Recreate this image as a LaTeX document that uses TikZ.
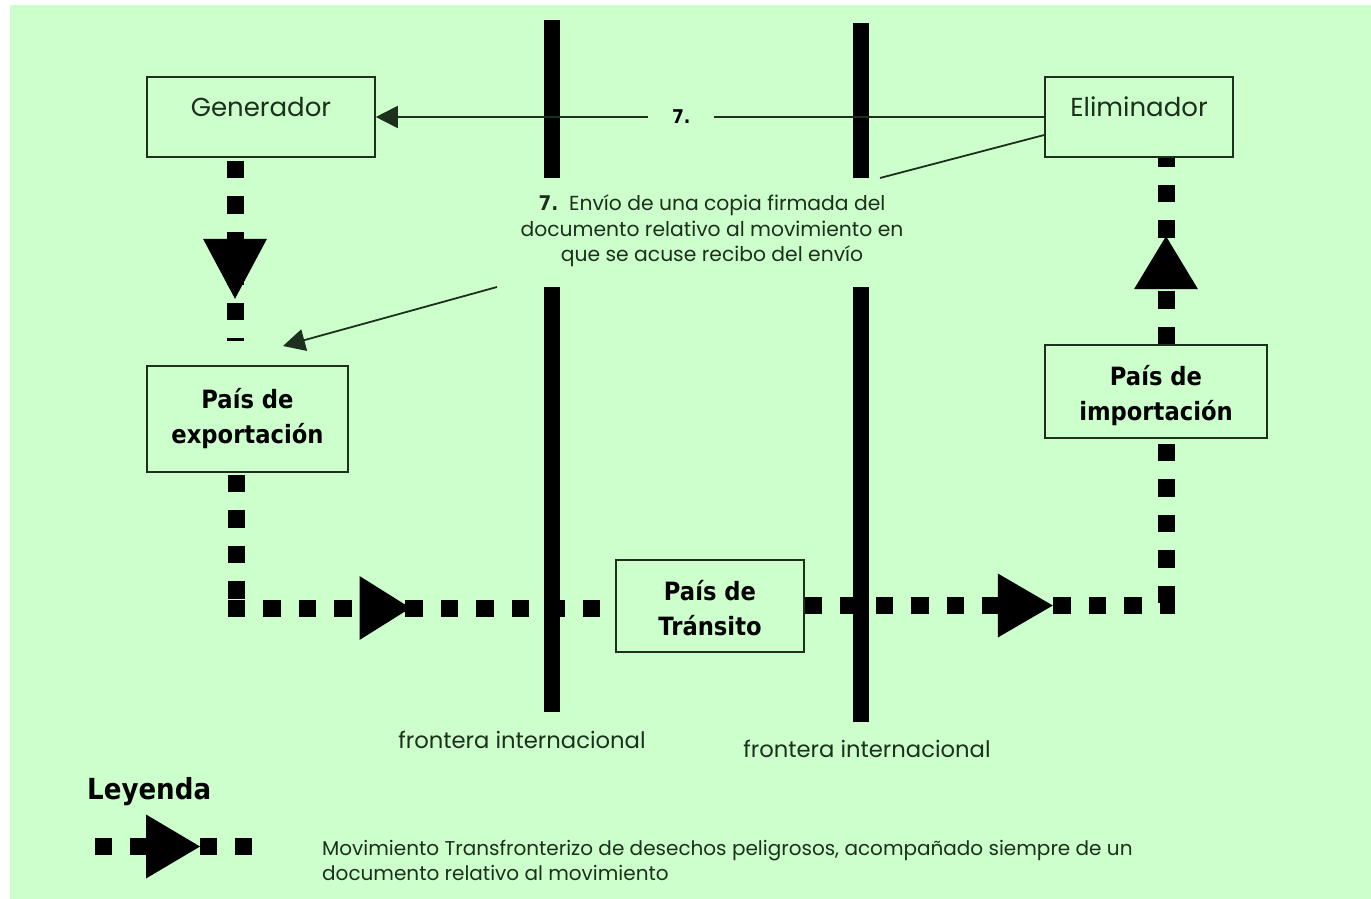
\documentclass[tikz,border=0pt]{standalone}
\usepackage{fontspec}
\setmainfont{Poppins}
\newfontfamily\lblfont{DejaVu Sans}[FakeStretch=0.9]
\usetikzlibrary{arrows.meta,decorations.markings,calc}
\definecolor{bggreen}{RGB}{204,255,204}
\definecolor{ink}{RGB}{28,48,28}
\begin{document}
\begin{tikzpicture}[x=1pt,y=-1pt,
  box/.style={draw=ink, line width=1.6pt, fill=bggreen, inner sep=0pt, align=center},
  plainbox/.style={box, font=\fontsize{26}{30}\selectfont, text=ink},
  boldbox/.style={box, font=\lblfont\bfseries\fontsize{25.2}{35}\selectfont, text=black},
  mov/.style={draw=black, line width=17pt, dash pattern=on 17.5pt off 18pt},
  bar/.style={draw=black, line width=16pt},
  ptr/.style={draw=ink, line width=1.8pt, -{Triangle[length=22pt,width=22pt]}},
  thinline/.style={draw=ink, line width=1.8pt},
  tri/.style args={#1 at #2}{postaction={decorate, decoration={markings,
      mark=at position #2 with {\fill[black] (-#1,-32pt) -- (0pt,0pt) -- (-#1,32pt) -- cycle;}}}},
  txt/.style={text=ink, inner sep=0pt},
]
\useasboundingbox (0,0) rectangle (1371,899);
\fill[white] (0,0) rectangle (1371,899);
\fill[bggreen] (10,5) rectangle (1371,899);

% boxes
\node[plainbox, minimum width=228pt, minimum height=80pt] (gen) at (261,117) {Generador\rule[-20pt]{0pt}{0pt}};
\node[plainbox, minimum width=188pt, minimum height=80pt] (elim) at (1139,117) {Eliminador\rule[-20pt]{0pt}{0pt}};
\node[boldbox, minimum width=201pt, minimum height=106pt] (exp) at (247.5,419) {País de\\exportación\rule[-7pt]{0pt}{0pt}};
\node[boldbox, minimum width=188pt, minimum height=92pt] (trans) at (710,606) {\rule{0pt}{25pt}País de\\Tránsito};
\node[boldbox, minimum width=222pt, minimum height=93pt] (imp) at (1156,391.5) {\rule{0pt}{29pt}País de\\importación};

% helper coordinates
\coordinate (c1) at (235,0);
\coordinate (c2) at (236.5,0);
\coordinate (k1) at (236.5,599);
\coordinate (k2) at (227.5,608);
\coordinate (k3) at (0,605.5);
\coordinate (k4) at (1175,605.5);
\coordinate (k5) at (1166,603);
\coordinate (leg1) at (95,846.5);
\coordinate (leg2) at (253,846.5);

% movement connectors
\draw[mov, dash phase=32.5pt, tri={60pt at 141pt}] (gen.south -| c1) -- ([yshift=24pt]exp.north -| c1);
\draw[mov, dash phase=33.5pt] (exp.south -| c2) -- (k1);
\draw[mov, tri={51pt at 183pt}] (k2) -- (trans.west |- k2);
\draw[mov, tri={55pt at 248pt}] (trans.east |- k3) -- (k4);
\draw[mov] (k5) -- (imp.south -| k5);
\draw[mov, tri={53pt at 108pt}] (imp.north -| k5) -- (elim.south -| k5);

% borders
\draw[bar] (552,20) -- (552,178);
\draw[bar] (552,287) -- (552,712);
\draw[bar] (861,23) -- (861,178);
\draw[bar] (861,287) -- (861,722);

% document return
\coordinate (sl) at (880,178);
\coordinate (p1) at (497,287);
\coordinate (p2) at (283,346);
\draw[ptr] (elim.west) -- node[pos=0.543, fill=bggreen, inner xsep=24pt, inner ysep=2pt, font=\lblfont\bfseries\fontsize{19}{21}\selectfont, text=black] (n7) {7.} (gen.east);
\draw[thinline] ([yshift=-18pt]elim.west) -- (sl);
\draw[ptr] (p1) -- (p2);

\node[txt, align=center, font=\fontsize{20.3}{25.5}\selectfont] (desc) at (712,231)
  {{\lblfont\bfseries 7.}\ \ Envío de una copia firmada del\\documento relativo al movimiento en\\que se acuse recibo del envío};

% border labels
\node[txt, font=\fontsize{22.7}{26}\selectfont] (f1) at (522,740) {frontera internacional};
\begin{scope}
  \clip (700,725) rectangle (1040,757);
  \node[txt, font=\fontsize{22.7}{26}\selectfont] (f2) at (867,749) {frontera internacional};
\end{scope}

% legend
\node[inner sep=0pt, anchor=west, font=\lblfont\bfseries\fontsize{29}{31}\selectfont] (ley) at (87,792) {Leyenda};
\draw[mov, dash pattern=on 17pt off 18pt, tri={54pt at 105pt}] (leg1) -- (leg2);
\node[txt, anchor=west, align=left, font=\fontsize{20}{25}\selectfont] (legtxt) at (322,860.5)
  {Movimiento Transfronterizo de desechos peligrosos, acompañado siempre de un\\documento relativo al movimiento};
\end{tikzpicture}
\end{document}
